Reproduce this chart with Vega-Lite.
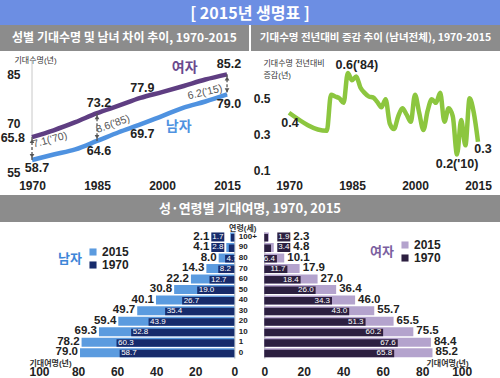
{
"$schema":"https://vega.github.io/schema/vega-lite/v6.json",
"padding":0,
"spacing":0,
"bounds":"full",
"background":"white",
"resolve":{"scale":{"color":"independent","x":"independent","y":"independent"},"legend":{"color":"independent"}},
"datasets":{
"le":[
{"sex":"여자","year":1970,"value":65.8},{"sex":"여자","year":1975,"value":67.9},{"sex":"여자","year":1980,"value":70.4},{"sex":"여자","year":1985,"value":73.2},{"sex":"여자","year":1990,"value":75.5},{"sex":"여자","year":1995,"value":77.9},{"sex":"여자","year":2000,"value":79.7},{"sex":"여자","year":2005,"value":81.6},{"sex":"여자","year":2010,"value":83.6},{"sex":"여자","year":2015,"value":85.2},
{"sex":"남자","year":1970,"value":58.7},{"sex":"남자","year":1975,"value":60.4},{"sex":"남자","year":1980,"value":62.0},{"sex":"남자","year":1985,"value":64.6},{"sex":"남자","year":1990,"value":67.3},{"sex":"남자","year":1995,"value":69.7},{"sex":"남자","year":2000,"value":72.3},{"sex":"남자","year":2005,"value":74.9},{"sex":"남자","year":2010,"value":76.8},{"sex":"남자","year":2015,"value":79.0}
],
"gap":[
{"year":1970,"value":65.8,"m":58.7,"t":"7.1('70)"},
{"year":1985,"value":73.2,"m":64.6,"t":"8.6('85)"},
{"year":2015,"value":85.2,"m":79.0,"t":"6.2('15)"}
],
"chg":[
{"year":1970,"value":0.42,"lab":"0.4"},{"year":1979,"value":0.32},{"year":1980,"value":0.52},{"year":1981,"value":0.51},{"year":1982,"value":0.50},{"year":1983,"value":0.475},{"year":1984,"value":0.64,"lab":"0.6('84)"},{"year":1985,"value":0.60},{"year":1986,"value":0.62},{"year":1987,"value":0.56},{"year":1988,"value":0.53},{"year":1989,"value":0.51},{"year":1990,"value":0.505},{"year":1991,"value":0.48},{"year":1992,"value":0.45},{"year":1993,"value":0.495},{"year":1994,"value":0.36},{"year":1995,"value":0.33},{"year":1996,"value":0.40},{"year":1997,"value":0.445},{"year":1998,"value":0.41},{"year":1999,"value":0.37},{"year":2000,"value":0.52},{"year":2001,"value":0.42},{"year":2002,"value":0.325},{"year":2003,"value":0.43},{"year":2004,"value":0.495},{"year":2005,"value":0.475},{"year":2006,"value":0.53},{"year":2007,"value":0.37},{"year":2008,"value":0.445},{"year":2009,"value":0.40},{"year":2010,"value":0.19,"lab":"0.2('10)"},{"year":2011,"value":0.38},{"year":2012,"value":0.24},{"year":2013,"value":0.50},{"year":2014,"value":0.42},{"year":2015,"value":0.26,"lab":"0.3"}
],
"pyr":[
{"sex":"남자","age":"100+","year":"2015","value":2.1},{"sex":"남자","age":"90","year":"2015","value":4.1},{"sex":"남자","age":"80","year":"2015","value":8.0},{"sex":"남자","age":"70","year":"2015","value":14.3},{"sex":"남자","age":"60","year":"2015","value":22.2},{"sex":"남자","age":"50","year":"2015","value":30.8},{"sex":"남자","age":"40","year":"2015","value":40.1},{"sex":"남자","age":"30","year":"2015","value":49.7},{"sex":"남자","age":"20","year":"2015","value":59.4},{"sex":"남자","age":"10","year":"2015","value":69.3},{"sex":"남자","age":"1","year":"2015","value":78.2},{"sex":"남자","age":"0","year":"2015","value":79.0},
{"sex":"남자","age":"100+","year":"1970","value":1.7},{"sex":"남자","age":"90","year":"1970","value":2.8},{"sex":"남자","age":"80","year":"1970","value":4.7},{"sex":"남자","age":"70","year":"1970","value":8.2},{"sex":"남자","age":"60","year":"1970","value":12.7},{"sex":"남자","age":"50","year":"1970","value":19.0},{"sex":"남자","age":"40","year":"1970","value":26.7},{"sex":"남자","age":"30","year":"1970","value":35.4},{"sex":"남자","age":"20","year":"1970","value":43.9},{"sex":"남자","age":"10","year":"1970","value":52.8},{"sex":"남자","age":"1","year":"1970","value":60.3},{"sex":"남자","age":"0","year":"1970","value":58.7},
{"sex":"여자","age":"100+","year":"2015","value":2.3},{"sex":"여자","age":"90","year":"2015","value":4.8},{"sex":"여자","age":"80","year":"2015","value":10.1},{"sex":"여자","age":"70","year":"2015","value":17.9},{"sex":"여자","age":"60","year":"2015","value":27.0},{"sex":"여자","age":"50","year":"2015","value":36.4},{"sex":"여자","age":"40","year":"2015","value":46.0},{"sex":"여자","age":"30","year":"2015","value":55.7},{"sex":"여자","age":"20","year":"2015","value":65.5},{"sex":"여자","age":"10","year":"2015","value":75.5},{"sex":"여자","age":"1","year":"2015","value":84.4},{"sex":"여자","age":"0","year":"2015","value":85.2},
{"sex":"여자","age":"100+","year":"1970","value":1.9},{"sex":"여자","age":"90","year":"1970","value":3.4},{"sex":"여자","age":"80","year":"1970","value":6.4},{"sex":"여자","age":"70","year":"1970","value":11.7},{"sex":"여자","age":"60","year":"1970","value":18.4},{"sex":"여자","age":"50","year":"1970","value":26.0},{"sex":"여자","age":"40","year":"1970","value":34.3},{"sex":"여자","age":"30","year":"1970","value":43.0},{"sex":"여자","age":"20","year":"1970","value":51.3},{"sex":"여자","age":"10","year":"1970","value":60.2},{"sex":"여자","age":"1","year":"1970","value":67.6},{"sex":"여자","age":"0","year":"1970","value":65.8}
]
},
"vconcat":[
{"width":500,"height":25,"view":{"fill":"#6c8ee3","stroke":null},"data":{"values":[{"t":"[ 2015년 생명표 ]"}]},"mark":{"type":"text","font":"Noto Sans CJK KR","fontWeight":"bold","fontSize":16,"color":"white","baseline":"middle","yOffset":1},"encoding":{"text":{"field":"t"}}},
{"hconcat":[
{"width":249,"height":26,"view":{"fill":"#8c8c8c","stroke":null},"data":{"values":[{"t":"성별 기대수명 및 남녀 차이 추이, 1970-2015"}]},"mark":{"type":"text","font":"Noto Sans CJK KR","fontWeight":"bold","fontSize":12,"color":"white","baseline":"middle"},"encoding":{"text":{"field":"t"}}},
{"width":249,"height":26,"view":{"fill":"#8c8c8c","stroke":null},"data":{"values":[{"t":"기대수명 전년대비 증감 추이 (남녀전체), 1970-2015"}]},"mark":{"type":"text","font":"Noto Sans CJK KR","fontWeight":"bold","fontSize":10.5,"color":"white","baseline":"middle"},"encoding":{"text":{"field":"t"}}}
],"spacing":2,"bounds":"flush"},
{"hconcat":[
{"width":250,"height":144,
"encoding":{
"x":{"field":"year","type":"quantitative","scale":{"domain":[1962.615,2020.3],"nice":false,"zero":false},"axis":{"values":[1970,1985,2000,2015],"format":"d","offset":-16.5,"labelPadding":2,"tickSize":0,"title":null}},
"y":{"field":"value","type":"quantitative","scale":{"domain":[47.89,92.42],"nice":false,"zero":false},"axis":{"values":[55,70,85],"offset":-20,"labelPadding":0,"tickSize":0,"title":"기대수명(년)","titleAngle":0,"titleX":15,"titleY":9,"titleAlign":"center","titleBaseline":"middle"}}
},
"layer":[
{"data":{"name":"gap"},"transform":[{"filter":"datum.year==1970"}],"mark":{"type":"rule","color":"#c8c8c8","strokeWidth":1},"encoding":{"y2":{"datum":89.5}}},
{"data":{"name":"le"},"mark":{"type":"line","strokeWidth":4.5,"interpolate":"monotone"},
"encoding":{"color":{"field":"sex","type":"nominal","scale":{"domain":["여자","남자"],"range":["#5f3e82","#4f92e0"]},"legend":null}}},
{"data":{"name":"gap"},"mark":{"type":"rule","color":"#555","strokeWidth":1.3,"strokeDash":[3,2]},"encoding":{"y2":{"field":"m"}}},
{"data":{"name":"gap"},"mark":{"type":"point","shape":"triangle-up","filled":true,"color":"#555","size":22,"opacity":1,"yOffset":4}},
{"data":{"name":"le"},"transform":[{"filter":"datum.sex=='남자' && (datum.year==1970 || datum.year==1985 || datum.year==2015)"}],"mark":{"type":"point","shape":"triangle-down","filled":true,"color":"#555","size":22,"opacity":1,"yOffset":-4}},
{"data":{"name":"le"},"transform":[{"filter":"datum.sex=='여자' && (datum.year==1985 || datum.year==1995 || datum.year==2015)"}],"mark":{"type":"text","fontWeight":"bold","fontSize":12.5,"color":"#222","xOffset":2,"yOffset":-10},
"encoding":{"text":{"field":"value","type":"quantitative","format":".1f"}}},
{"data":{"name":"le"},"transform":[{"filter":"datum.sex=='남자' && (datum.year==1985 || datum.year==1995 || datum.year==2015)"}],"mark":{"type":"text","fontWeight":"bold","fontSize":12.5,"color":"#222","xOffset":2,"yOffset":10},
"encoding":{"text":{"field":"value","type":"quantitative","format":".1f"}}},
{"data":{"name":"le"},"transform":[{"filter":"datum.sex=='여자' && datum.year==1970"}],"mark":{"type":"text","fontWeight":"bold","fontSize":12.5,"color":"#222","align":"right","xOffset":-7,"yOffset":0.5},
"encoding":{"text":{"field":"value","type":"quantitative","format":".1f"}}},
{"data":{"name":"le"},"transform":[{"filter":"datum.sex=='남자' && datum.year==1970"}],"mark":{"type":"text","fontWeight":"bold","fontSize":12.5,"color":"#222","xOffset":5,"yOffset":8},
"encoding":{"text":{"field":"value","type":"quantitative","format":".1f"}}},
{"data":{"name":"le"},"transform":[{"filter":"datum.sex=='여자' && datum.year==2005"}],"mark":{"type":"text","font":"Noto Sans CJK KR","fontWeight":"bold","fontSize":14,"color":"#6a4a8e","xOffset":1,"yOffset":-18},
"encoding":{"text":{"field":"sex"}}},
{"data":{"name":"le"},"transform":[{"filter":"datum.sex=='남자' && datum.year==2005"}],"mark":{"type":"text","font":"Noto Sans CJK KR","fontWeight":"bold","fontSize":14,"color":"#4f92e0","xOffset":-5,"yOffset":19},
"encoding":{"text":{"field":"sex"}}},
{"data":{"name":"gap"},"transform":[{"filter":"datum.year==1970"}],"mark":{"type":"text","fontSize":10.5,"color":"#555","angle":345,"xOffset":18,"yOffset":3},
"encoding":{"text":{"field":"t"}}},
{"data":{"name":"gap"},"transform":[{"filter":"datum.year==1985"}],"mark":{"type":"text","fontSize":10.5,"color":"#555","angle":340,"xOffset":16,"yOffset":11},
"encoding":{"text":{"field":"t"}}},
{"data":{"name":"gap"},"transform":[{"filter":"datum.year==2015"}],"mark":{"type":"text","fontSize":10.5,"color":"#555","angle":347,"xOffset":-22,"yOffset":18},
"encoding":{"text":{"field":"t"}}}
]},
{"width":250,"height":144,
"encoding":{
"x":{"field":"year","type":"quantitative","scale":{"domain":[1960.714,2020.238],"nice":false,"zero":false},"axis":{"values":[1970,1985,2000,2015],"format":"d","offset":-16.5,"labelPadding":2,"tickSize":0,"title":null}},
"y":{"field":"value","type":"quantitative","scale":{"domain":[-0.0343,0.7613],"nice":false,"zero":false},"axis":{"values":[0.1,0.3,0.5],"format":".1f","offset":-20,"labelPadding":0,"tickSize":0,"title":["기대수명 전년대비","증감(년)"],"titleAngle":0,"titleX":-7,"titleY":8,"titleAlign":"left","titleBaseline":"top","titleLineHeight":12}}
},
"layer":[
{"data":{"values":[{}]},"mark":{"type":"rule","color":"#c8c8c8","strokeWidth":1},
"encoding":{
"x":{"datum":1968.6,"type":"quantitative","scale":{"domain":[1960.714,2020.238],"nice":false,"zero":false},"axis":{"values":[1970,1985,2000,2015],"format":"d","offset":-16.5,"labelPadding":2,"tickSize":0,"title":null}},
"x2":{"datum":2015.5},
"y":{"datum":0.1,"type":"quantitative","scale":{"domain":[-0.0343,0.7613],"nice":false,"zero":false},"axis":{"values":[0.1,0.3,0.5],"format":".1f","offset":-20,"labelPadding":0,"tickSize":0,"title":["기대수명 전년대비","증감(년)"],"titleAngle":0,"titleX":-7,"titleY":8,"titleAlign":"left","titleBaseline":"top","titleLineHeight":12}}}},
{"data":{"name":"chg"},"mark":{"type":"line","strokeWidth":4.5,"interpolate":"monotone","color":"#8cc63f"}},
{"data":{"name":"chg"},"transform":[{"filter":"datum.year==1970"}],"mark":{"type":"text","fontWeight":"bold","fontSize":12.5,"color":"#222","xOffset":1,"yOffset":10.5},"encoding":{"text":{"field":"lab"}}},
{"data":{"name":"chg"},"transform":[{"filter":"datum.year==1984"}],"mark":{"type":"text","fontWeight":"bold","fontSize":12.5,"color":"#222","xOffset":9,"yOffset":-8},"encoding":{"text":{"field":"lab"}}},
{"data":{"name":"chg"},"transform":[{"filter":"datum.year==2010"}],"mark":{"type":"text","fontWeight":"bold","fontSize":12.5,"color":"#222","yOffset":9.5},"encoding":{"text":{"field":"lab"}}},
{"data":{"name":"chg"},"transform":[{"filter":"datum.year==2015"}],"mark":{"type":"text","fontWeight":"bold","fontSize":12.5,"color":"#222","xOffset":5,"yOffset":7},"encoding":{"text":{"field":"lab"}}}
]}
],"spacing":0,"bounds":"flush","resolve":{"scale":{"color":"independent","x":"independent","y":"independent"}}},
{"width":500,"height":27,"view":{"fill":"#8c8c8c","stroke":null},"data":{"values":[{"t":"성·연령별 기대여명, 1970, 2015"}]},"mark":{"type":"text","font":"Noto Sans CJK KR","fontWeight":"bold","fontSize":13,"color":"white","baseline":"middle"},"encoding":{"text":{"field":"t"}}},
{"hconcat":[
{"width":250,"height":156,"data":{"name":"pyr"},"transform":[{"filter":"datum.sex=='남자'"}],
"encoding":{
"x":{"field":"value","type":"quantitative","scale":{"domain":[-8.04,119.97],"reverse":true,"nice":false,"zero":false},"axis":{"values":[0,20,40,60,80,100],"offset":-13,"labelPadding":1,"tickSize":0,"title":"기대여명(년)","titleX":50,"titleY":-2,"titleAlign":"center","titleBaseline":"middle","titleFontWeight":"bold"}},
"y":{"field":"age","type":"nominal","sort":["100+","90","80","70","60","50","40","30","20","10","1","0"],"scale":{"range":[9.7,136],"paddingInner":0,"paddingOuter":0},"axis":{"orient":"right","offset":-15.7,"domain":true,"domainColor":"#aaaaaa","tickSize":0,"labelAlign":"left","labelPadding":4,"labelFontSize":8,"labelBaseline":"middle","title":"연령(세)","titleAngle":0,"titleX":8,"titleY":6,"titleAlign":"center","titleBaseline":"middle","titleFontWeight":"bold"}}
},
"layer":[
{"transform":[{"filter":"datum.year=='2015'"}],"mark":{"type":"bar","size":9},
"encoding":{"x2":{"datum":0},
"color":{"field":"year","type":"nominal","scale":{"domain":["2015","1970"],"range":["#5b9bdf","#172b6b"]},"legend":{"orient":"none","legendX":58,"legendY":24,"title":"남자","titleOrient":"left","titleColor":"#3d85d8","titleFontSize":13,"titleFontWeight":"bold","titleFont":"Noto Sans CJK KR","titlePadding":5,"labelFontSize":12,"labelFontWeight":"bold","labelColor":"#222","symbolType":"square","symbolSize":50,"symbolStrokeWidth":0,"rowPadding":1,"labelOffset":3}}}},
{"transform":[{"filter":"datum.year=='1970'"}],"mark":{"type":"bar","size":7.5,"yOffset":0.75},
"encoding":{"x2":{"datum":0},"color":{"field":"year","type":"nominal","scale":{"domain":["2015","1970"],"range":["#5b9bdf","#172b6b"]}}}},
{"transform":[{"filter":"datum.year=='1970' && (datum.age=='100+' || datum.age=='90')"}],"mark":{"type":"bar","size":9,"xOffset":-23,"x2Offset":-10,"color":"#172b6b"},
"encoding":{
"x":{"datum":0,"type":"quantitative","scale":{"domain":[-8.04,119.97],"reverse":true,"nice":false,"zero":false},"axis":{"values":[0,20,40,60,80,100],"offset":-13,"labelPadding":1,"tickSize":0,"title":"기대여명(년)","titleX":50,"titleY":-2,"titleAlign":"center","titleBaseline":"middle","titleFontWeight":"bold"}},
"x2":{"datum":0}}},
{"transform":[{"filter":"datum.year=='1970' && (datum.age=='100+' || datum.age=='90')"}],"mark":{"type":"text","fontSize":8,"color":"white","xOffset":-16.5},
"encoding":{
"x":{"datum":0,"type":"quantitative","scale":{"domain":[-8.04,119.97],"reverse":true,"nice":false,"zero":false},"axis":{"values":[0,20,40,60,80,100],"offset":-13,"labelPadding":1,"tickSize":0,"title":"기대여명(년)","titleX":50,"titleY":-2,"titleAlign":"center","titleBaseline":"middle","titleFontWeight":"bold"}},
"text":{"field":"value","type":"quantitative","format":".1f"}}},
{"transform":[{"filter":"datum.year=='2015' && (datum.age=='100+' || datum.age=='90')"}],"mark":{"type":"text","fontSize":11.5,"fontWeight":"bold","color":"#222","align":"right","xOffset":-25},
"encoding":{
"x":{"datum":0,"type":"quantitative","scale":{"domain":[-8.04,119.97],"reverse":true,"nice":false,"zero":false},"axis":{"values":[0,20,40,60,80,100],"offset":-13,"labelPadding":1,"tickSize":0,"title":"기대여명(년)","titleX":50,"titleY":-2,"titleAlign":"center","titleBaseline":"middle","titleFontWeight":"bold"}},
"text":{"field":"value","type":"quantitative","format":".1f"}}},
{"transform":[{"filter":"datum.year=='2015' && datum.age!='100+' && datum.age!='90'"}],"mark":{"type":"text","fontSize":11.5,"fontWeight":"bold","color":"#222","align":"right","dx":-2,"yOffset":-0.5},
"encoding":{"text":{"field":"value","type":"quantitative","format":".1f"}}},
{"transform":[{"filter":"datum.year=='1970' && datum.age!='100+' && datum.age!='90'"}],"mark":{"type":"text","fontSize":8,"color":"white","align":"left","dx":1.5,"yOffset":0.75},
"encoding":{"text":{"field":"value","type":"quantitative","format":".1f"}}}
]},
{"width":250,"height":156,"data":{"name":"pyr"},"transform":[{"filter":"datum.sex=='여자'"}],
"encoding":{
"x":{"field":"value","type":"quantitative","scale":{"domain":[-7.24,119.4],"nice":false,"zero":false},"axis":{"values":[0,20,40,60,80,100],"offset":-13,"labelPadding":1,"tickSize":0,"title":"기대여명(년)","titleX":197,"titleY":-2,"titleAlign":"center","titleBaseline":"middle","titleFontWeight":"bold"}},
"y":{"field":"age","type":"nominal","sort":["100+","90","80","70","60","50","40","30","20","10","1","0"],"scale":{"range":[9.7,136],"paddingInner":0,"paddingOuter":0},"axis":{"orient":"left","offset":-14.3,"domain":true,"domainColor":"#aaaaaa","tickSize":0,"labels":false,"title":null}}
},
"layer":[
{"transform":[{"filter":"datum.year=='2015'"}],"mark":{"type":"bar","size":9},
"encoding":{"x2":{"datum":0},
"color":{"field":"year","type":"nominal","scale":{"domain":["2015","1970"],"range":["#b4a3cd","#2c1f40"]},"legend":{"orient":"none","legendX":120,"legendY":17,"title":"여자","titleOrient":"left","titleColor":"#7b5fa0","titleFontSize":13,"titleFontWeight":"bold","titleFont":"Noto Sans CJK KR","titlePadding":5,"labelFontSize":12,"labelFontWeight":"bold","labelColor":"#222","symbolType":"square","symbolSize":50,"symbolStrokeWidth":0,"rowPadding":1,"labelOffset":3}}}},
{"transform":[{"filter":"datum.year=='1970'"}],"mark":{"type":"bar","size":7.5,"yOffset":0.75},
"encoding":{"x2":{"datum":0},"color":{"field":"year","type":"nominal","scale":{"domain":["2015","1970"],"range":["#b4a3cd","#2c1f40"]}}}},
{"transform":[{"filter":"datum.year=='1970' && (datum.age=='100+' || datum.age=='90')"}],"mark":{"type":"bar","size":9,"xOffset":13,"x2Offset":26,"color":"#2c1f40"},
"encoding":{
"x":{"datum":0,"type":"quantitative","scale":{"domain":[-7.24,119.4],"nice":false,"zero":false},"axis":{"values":[0,20,40,60,80,100],"offset":-13,"labelPadding":1,"tickSize":0,"title":"기대여명(년)","titleX":197,"titleY":-2,"titleAlign":"center","titleBaseline":"middle","titleFontWeight":"bold"}},
"x2":{"datum":0}}},
{"transform":[{"filter":"datum.year=='1970' && (datum.age=='100+' || datum.age=='90')"}],"mark":{"type":"text","fontSize":8,"color":"white","xOffset":19.5},
"encoding":{
"x":{"datum":0,"type":"quantitative","scale":{"domain":[-7.24,119.4],"nice":false,"zero":false},"axis":{"values":[0,20,40,60,80,100],"offset":-13,"labelPadding":1,"tickSize":0,"title":"기대여명(년)","titleX":197,"titleY":-2,"titleAlign":"center","titleBaseline":"middle","titleFontWeight":"bold"}},
"text":{"field":"value","type":"quantitative","format":".1f"}}},
{"transform":[{"filter":"datum.year=='2015' && (datum.age=='100+' || datum.age=='90')"}],"mark":{"type":"text","fontSize":11.5,"fontWeight":"bold","color":"#222","align":"left","xOffset":29},
"encoding":{
"x":{"datum":0,"type":"quantitative","scale":{"domain":[-7.24,119.4],"nice":false,"zero":false},"axis":{"values":[0,20,40,60,80,100],"offset":-13,"labelPadding":1,"tickSize":0,"title":"기대여명(년)","titleX":197,"titleY":-2,"titleAlign":"center","titleBaseline":"middle","titleFontWeight":"bold"}},
"text":{"field":"value","type":"quantitative","format":".1f"}}},
{"transform":[{"filter":"datum.year=='2015' && datum.age!='100+' && datum.age!='90'"}],"mark":{"type":"text","fontSize":11.5,"fontWeight":"bold","color":"#222","align":"left","dx":3,"yOffset":-0.5},
"encoding":{"text":{"field":"value","type":"quantitative","format":".1f"}}},
{"transform":[{"filter":"datum.year=='1970' && datum.age!='100+' && datum.age!='90'"}],"mark":{"type":"text","fontSize":8,"color":"white","align":"right","dx":-2,"yOffset":0.75},
"encoding":{"text":{"field":"value","type":"quantitative","format":".1f"}}}
]}
],"spacing":0,"bounds":"flush","resolve":{"scale":{"color":"independent","x":"independent","y":"independent"},"legend":{"color":"independent"}}}
],
"config":{
"view":{"stroke":null},
"font":"Liberation Sans, Noto Sans CJK KR",
"text":{"font":"Liberation Sans, Noto Sans CJK KR"},
"axis":{"grid":false,"domain":false,"ticks":false,"labelFontWeight":"bold","labelFontSize":12,"labelColor":"#222","titleFontWeight":"normal","titleColor":"#333","titleFontSize":8}
}
}
